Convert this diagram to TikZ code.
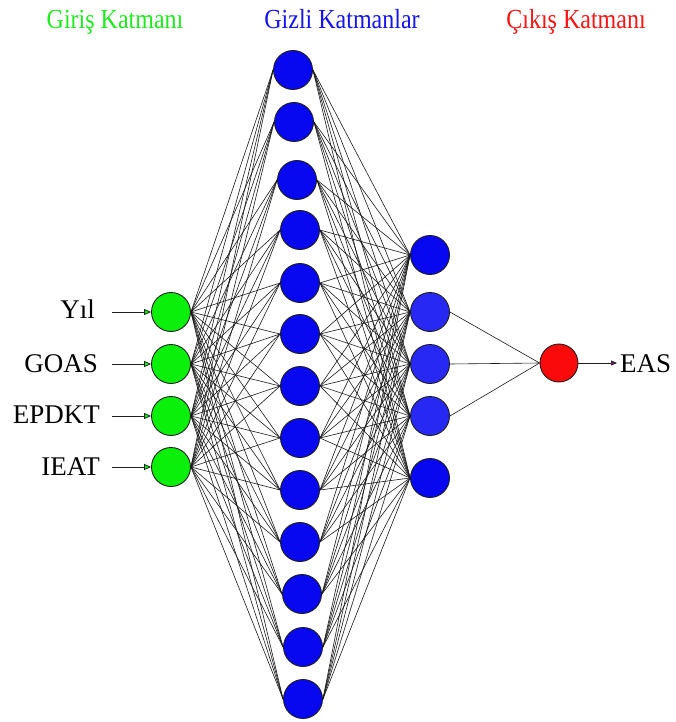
\documentclass[tikz,border=0pt]{standalone}
\usepackage{fontspec}
\setmainfont{Liberation Serif}
\usetikzlibrary{arrows.meta}
\definecolor{ingreen}{RGB}{10,240,10}
\definecolor{hidblue}{RGB}{8,8,240}
\definecolor{hidblueb}{RGB}{40,40,245}
\definecolor{outred}{RGB}{250,10,10}
\definecolor{rim}{RGB}{30,30,30}
\definecolor{titgreen}{RGB}{30,235,30}
\definecolor{titblue}{RGB}{20,20,235}
\definecolor{titred}{RGB}{250,20,20}
\definecolor{tipviolet}{RGB}{110,20,110}
\begin{document}
\begin{tikzpicture}[x=1pt,y=-1pt,
  neuron/.style={circle,draw=rim,line width=0.9pt,minimum size=39pt,inner sep=0pt},
  innode/.style={neuron,fill=ingreen},
  hidnode/.style={neuron,fill=hidblue},
  outnode/.style={neuron,fill=outred,minimum size=38pt},
  link/.style={draw=black!90,line width=0.6pt},
  lab/.style={font=\fontsize{27}{29}\selectfont,inner sep=0pt,text=black},
  titl/.style={font=\fontsize{24}{26}\selectfont,inner sep=0pt,anchor=base},
  inarrow/.style={draw=rim,line width=0.7pt,-{Triangle[length=7pt,width=6pt,fill=ingreen]}},
  outarrow/.style={draw=rim,line width=0.7pt,-{Triangle[length=6pt,width=5pt,fill=tipviolet]}}
]
\useasboundingbox (0,0) rectangle (675,722);

% titles
\node[titl,text=titgreen] (t1) at (115,29) {\scalebox{1}[1.15]{Giriş Katmanı}};
\node[titl,text=titblue] (t2) at (342,29) {\scalebox{1}[1.15]{Gizli Katmanlar}};
\node[titl,text=titred] (t3) at (576,29) {\scalebox{1}[1.15]{Çıkış Katmanı}};

% input layer
\foreach \y [count=\i] in {312,364,416,467}
  \node[innode] (i\i) at (171,\y) {};

% hidden layer 1
\foreach \x/\y [count=\i] in {293/70,294/122,297/180,300/230,300/283,300/334,300/386,300/438,300/490,300/542,302/594,303/647,303/699}
  \node[hidnode] (h\i) at (\x,\y) {};

% hidden layer 2
\node[hidnode] (g1) at (430,255) {};
\node[hidnode,fill=hidblueb] (g2) at (430,312) {};
\node[hidnode,fill=hidblueb] (g3) at (430,364) {};
\node[hidnode,fill=hidblueb] (g4) at (430,416) {};
\node[hidnode] (g5) at (430,478) {};

% output
\node[outnode] (o) at (559,363) {};

% connections
\foreach \a in {1,...,4}
  \foreach \b in {1,...,13}
    \draw[link] (i\a.east) -- (h\b.west);
\foreach \a in {1,...,13}
  \foreach \b in {1,...,5}
    \draw[link] (h\a.east) -- (g\b.west);
\foreach \a in {2,3,4}
  \draw[link] (g\a.east) -- (o.west);

% input labels and arrows
\node[lab,anchor=base east] (l1) at (95,318) {Yıl};
\node[lab,anchor=base east] (l2) at (98,372) {GOAS};
\node[lab,anchor=base east] (l3) at (100,423) {EPDKT};
\node[lab,anchor=base east] (l4) at (100,475) {IEAT};
\foreach \y [count=\i] in {312,364,416,467} {
  \coordinate (s\i) at (112,\y);
  \draw[inarrow] (s\i) -- (i\i.west);
}

% output arrow and label
\coordinate (oe) at (617,363);
\draw[outarrow] (o.east) -- (oe);
\node[lab,anchor=base west] (eas) at (620,372) {EAS};
\end{tikzpicture}
\end{document}
